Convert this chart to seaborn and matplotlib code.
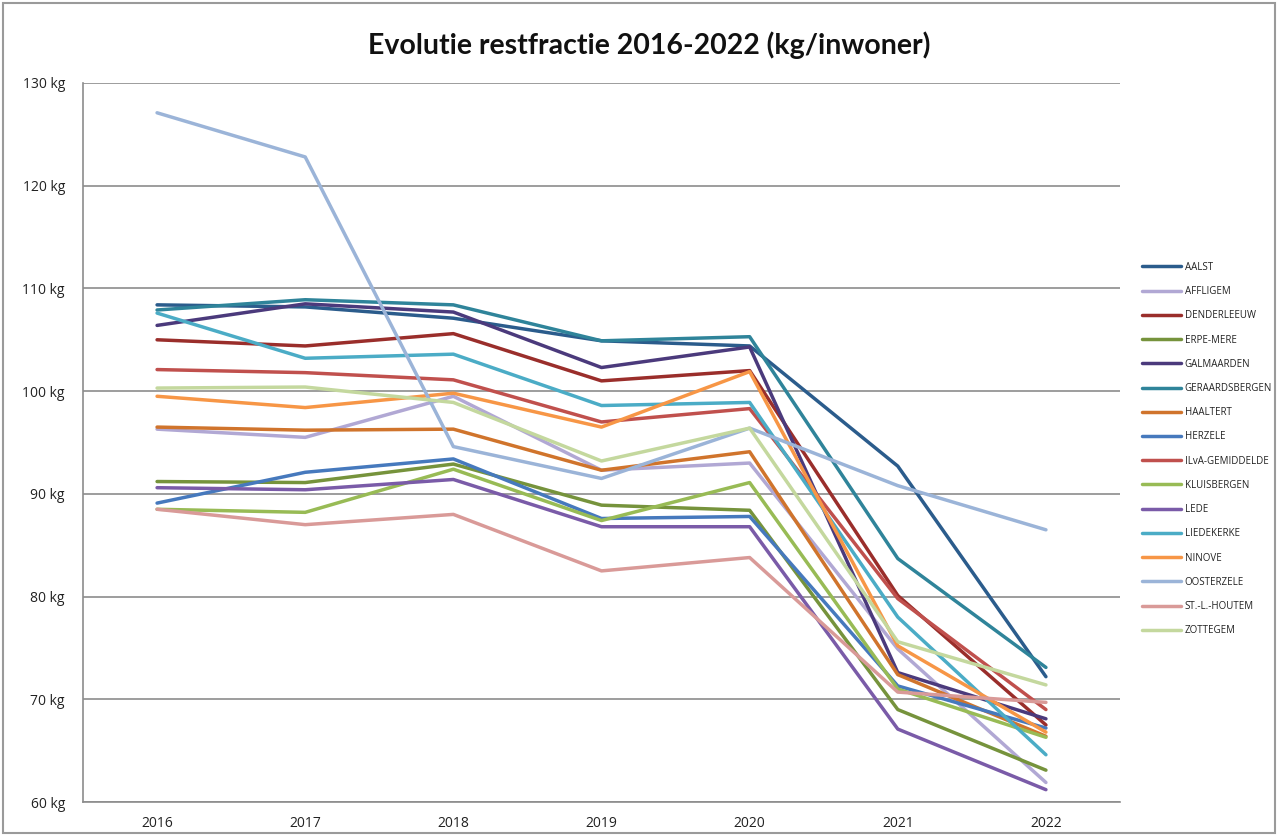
import matplotlib
matplotlib.use("Agg")
import matplotlib.pyplot as plt
import seaborn as sns
import pandas as pd
from matplotlib.ticker import FuncFormatter, FixedLocator
from matplotlib.patches import Rectangle
from matplotlib.lines import Line2D

years = ["2016", "2017", "2018", "2019", "2020", "2021", "2022"]

aalst = [108.4, 108.2, 107.1, 104.9, 104.4, 92.7, 72.2]
affligem = [96.3, 95.5, 99.5, 92.3, 93.0, 74.9, 61.9]
denderleeuw = [105.0, 104.4, 105.6, 101.0, 102.0, 80.1, 67.5]
erpe_mere = [91.2, 91.1, 92.9, 88.9, 88.4, 69.0, 63.1]
galmaarden = [106.4, 108.5, 107.7, 102.3, 104.3, 72.6, 68.1]
geraardsbergen = [107.9, 108.9, 108.4, 104.9, 105.3, 83.7, 73.1]
haaltert = [96.5, 96.2, 96.3, 92.3, 94.1, 72.4, 66.4]
herzele = [89.1, 92.1, 93.4, 87.6, 87.8, 71.3, 67.2]
ilva = [102.1, 101.8, 101.1, 97.0, 98.3, 79.8, 69.0]
kluisbergen = [88.5, 88.2, 92.4, 87.4, 91.1, 71.0, 66.3]
lede = [90.6, 90.4, 91.4, 86.8, 86.8, 67.1, 61.2]
liedekerke = [107.6, 103.2, 103.6, 98.6, 98.9, 78.0, 64.6]
ninove = [99.5, 98.4, 99.8, 96.5, 101.9, 75.2, 66.8]
oosterzele = [127.1, 122.8, 94.6, 91.5, 96.4, 90.8, 86.5]
st_l_houtem = [88.5, 87.0, 88.0, 82.5, 83.8, 70.7, 69.7]
zottegem = [100.3, 100.4, 98.9, 93.2, 96.4, 75.6, 71.4]

names = ["AALST", "AFFLIGEM", "DENDERLEEUW", "ERPE-MERE", "GALMAARDEN",
         "GERAARDSBERGEN", "HAALTERT", "HERZELE", "ILvA-GEMIDDELDE",
         "KLUISBERGEN", "LEDE", "LIEDEKERKE", "NINOVE", "OOSTERZELE",
         "ST.-L.-HOUTEM", "ZOTTEGEM"]
series = [aalst, affligem, denderleeuw, erpe_mere, galmaarden, geraardsbergen,
          haaltert, herzele, ilva, kluisbergen, lede, liedekerke, ninove,
          oosterzele, st_l_houtem, zottegem]
colors = ["#2B5C8C", "#B1A8D4", "#9A2E2B", "#76933C", "#4B3A7C", "#2F849A",
          "#D0742C", "#4679BD", "#C0504D", "#98BB55", "#7A5BA8", "#4BACC6",
          "#F79646", "#9BB4D8", "#D99A98", "#C4D89E"]

rows = []
for n, vals in zip(names, series):
    for i, v in enumerate(vals):
        rows.append({"gemeente": n, "x": i, "kg": v})
df = pd.DataFrame(rows)

sns.set_theme(style="white")
plt.rcParams['font.family'] = ['Open Sans', 'DejaVu Sans']

fig = plt.figure(figsize=(12.78, 8.36), dpi=100)
ax = fig.add_axes([83/1278, 1 - 802/836, (1120-83)/1278, (802-83)/836])

palette = dict(zip(names, colors))
sns.lineplot(data=df, x="x", y="kg", hue="gemeente", palette=palette,
             hue_order=names, linewidth=2.5, legend=False, ax=ax,
             estimator=None, sort=False)

ax.set_xlim(-0.5, 6.5)
ax.set_ylim(60, 130)
ax.yaxis.set_major_locator(FixedLocator(list(range(60, 131, 10))))
ax.yaxis.set_major_formatter(FuncFormatter(lambda v, p: f"{v:.0f} kg"))
ax.set_xticks(range(len(years)))
ax.set_xticklabels(years)
ax.set_xlabel("")
ax.set_ylabel("")
ax.grid(axis="y", color="#8c8c8c", linewidth=1.2)
ax.grid(axis="x", visible=False)
ax.set_axisbelow(True)
for s in ["top", "right"]:
    ax.spines[s].set_visible(False)
for s in ["left", "bottom"]:
    ax.spines[s].set_color("#8c8c8c")
    ax.spines[s].set_linewidth(1.2)
ax.tick_params(axis="y", which="major", length=5, color="#8c8c8c", width=1.2,
               labelsize=10, pad=8, labelcolor="#222222")
ax.tick_params(axis="x", which="major", length=0, labelsize=10, pad=10,
               labelcolor="#222222")

fig.text(649/1278, 1 - 45/836, "Evolutie restfractie 2016-2022 (kg/inwoner)",
         ha="center", va="center", fontsize=20.5, fontweight="bold",
         family=["Lato", "DejaVu Sans"], color="#111111")

handles = [Line2D([0], [0], color=c, lw=2.5) for c in colors]
leg = fig.legend(handles, names, loc="upper left",
                 bbox_to_anchor=(1138/1278, 1 - 258/836), frameon=False,
                 fontsize=7, handlelength=4.0, handletextpad=0.4,
                 labelspacing=1.36, borderaxespad=0)
for t in leg.get_texts():
    t.set_color("#222222")

fig.patches.append(Rectangle((3/1278, 3/836), 1 - 6/1278, 1 - 6/836,
                             transform=fig.transFigure, fill=False,
                             edgecolor="#9a9a9a", linewidth=1.5))

fig.savefig("out.png", dpi=100, facecolor="white")
